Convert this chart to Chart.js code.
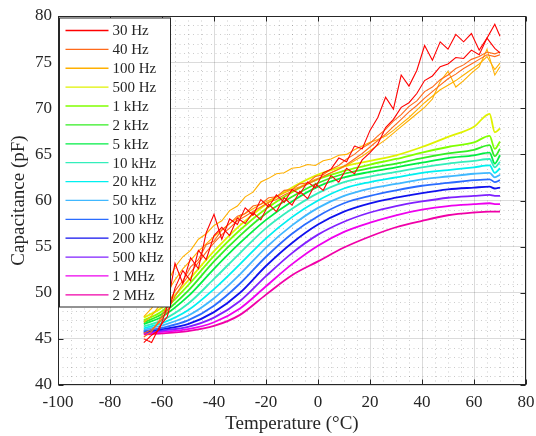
<!DOCTYPE html>
<html>
<head>
<meta charset="utf-8">
<script src="https://cdn.jsdelivr.net/npm/chart.js@4"></script>
<style>
  html, body { margin: 0; padding: 0; background: #fff; }
</style>
</head>
<body>
<canvas id="chart" width="536" height="436"></canvas>
<script>
// frequencies, legend order
var freqLabels = ['30 Hz', '40 Hz', '100 Hz', '500 Hz', '1 kHz', '2 kHz', '5 kHz', '10 kHz',
                  '20 kHz', '50 kHz', '100 kHz', '200 kHz', '500 kHz', '1 MHz', '2 MHz'];
var colors = ['#ff0000', '#ff6a1a', '#ffb000', '#dff200', '#80ff00', '#33ee22', '#00ee44', '#33eebb',
              '#00f0f0', '#40b8ff', '#2a6cff', '#1010ee', '#8020ff', '#ee00ee', '#f000a8'];

var xTicks = [-100, -80, -60, -40, -20, 0, 20, 40, 60, 80];
var yTicks = [40, 45, 50, 55, 60, 65, 70, 75, 80];

// low frequencies are noisy, two sweeps each
var tempNoisy = [-67, -64, -61, -58, -55, -52, -49, -46, -43, -40,
                 -37, -34, -31, -28, -25, -22, -19, -16, -13, -10,
                 -7, -4, -1, 2, 5, 8, 11, 14, 17, 20,
                 23, 26, 29, 32, 35, 38, 41, 44, 47, 50,
                 53, 56, 59, 62, 65, 68, 70];

var c30a = [44.6, 45.4, 46.0, 48.5, 53.2, 51.0, 53.8, 52.6, 56.5, 58.5,
            55.8, 58.0, 57.4, 59.2, 58.4, 60.1, 59.3, 60.6, 59.8, 61.2,
            60.7, 62.0, 61.4, 63.0, 63.4, 64.6, 64.2, 65.9, 65.6, 67.6,
            69.0, 71.2, 69.9, 73.6, 72.4, 74.1, 76.8, 75.2, 77.2, 76.4,
            78.0, 77.2, 78.1, 76.3, 77.6, 79.1, 77.8];
var c30b = [45.0, 44.6, 46.3, 47.4, 50.5, 52.4, 51.3, 54.6, 53.6, 56.2,
            57.1, 56.2, 58.1, 57.5, 58.7, 57.9, 59.6, 58.8, 60.3, 59.5,
            61.0, 60.2, 61.8, 61.1, 62.7, 62.0, 63.5, 62.9, 64.4, 65.2,
            66.1, 67.9, 68.8, 70.1, 70.6, 71.6, 73.0, 73.5, 74.5, 74.8,
            75.5, 75.4, 76.3, 75.8, 77.6, 76.5, 76.0];
var c40a = [45.2, 45.8, 47.0, 48.6, 50.2, 51.3, 52.8, 53.6, 55.2, 55.6,
            56.8, 57.5, 58.3, 58.6, 59.4, 59.6, 60.3, 60.4, 61.1, 61.2,
            61.8, 61.9, 62.6, 62.8, 63.4, 63.8, 64.5, 65.0, 65.7, 66.2,
            67.0, 67.7, 68.6, 69.3, 70.2, 70.8, 71.8, 72.3, 73.1, 73.6,
            74.3, 74.7, 75.3, 75.6, 76.1, 75.9, 76.1];
var c40b = [45.6, 46.0, 46.8, 48.0, 49.6, 51.0, 52.2, 53.3, 54.4, 55.4,
            56.3, 57.0, 57.8, 58.3, 58.8, 59.3, 59.8, 60.1, 60.6, 61.0,
            61.4, 61.8, 62.2, 62.6, 63.0, 63.4, 63.9, 64.5, 65.1, 65.8,
            66.5, 67.2, 68.0, 68.8, 69.6, 70.3, 71.1, 71.8, 72.5, 73.2,
            73.7, 74.3, 74.8, 75.3, 75.8, 75.6, 75.8];
var c100a = [47.4, 48.3, 49.6, 51.0, 52.8, 53.9, 54.6, 55.8, 56.4, 57.3,
             57.8, 58.9, 59.4, 60.4, 60.9, 62.0, 62.4, 62.9, 63.0, 63.5,
             63.6, 63.9, 63.8, 64.3, 64.5, 64.9, 65.0, 65.5, 65.9, 66.3,
             66.6, 67.0, 67.6, 68.3, 69.0, 69.8, 70.6, 71.3, 72.0, 72.5,
             73.0, 73.6, 74.2, 74.8, 75.6, 74.2, 74.9];
var c100b = [46.8, 47.5, 48.6, 50.0, 51.4, 52.6, 53.5, 54.5, 55.3, 56.1,
             56.8, 57.5, 58.1, 58.6, 59.1, 59.6, 60.0, 60.4, 60.8, 61.2,
             61.5, 61.9, 62.3, 62.6, 63.0, 63.4, 63.8, 64.3, 64.8, 65.4,
             66.0, 66.6, 67.3, 68.0, 68.7, 69.4, 70.1, 71.0, 72.9, 74.0,
             72.3, 73.0, 73.8, 74.5, 76.4, 73.6, 74.5];

// 500 Hz and up are smooth
var tempSmooth = [-67, -60, -50, -40, -30, -20, -10, 0, 10, 20, 30, 40, 50, 60, 66, 68, 70];

var c500  = [47.3, 48.4, 51.3, 54.5, 57.3, 59.6, 61.4, 62.8, 63.7, 64.3, 64.9, 65.8, 66.9, 68.0, 69.4, 67.4, 67.8];
var c1k   = [47.0, 48.0, 50.8, 54.0, 56.8, 59.1, 60.9, 62.3, 63.2, 63.9, 64.5, 65.2, 65.8, 66.3, 67.0, 65.6, 66.4];
var c2k   = [46.8, 47.7, 50.2, 53.4, 56.2, 58.6, 60.4, 61.9, 62.9, 63.5, 64.0, 64.6, 65.1, 65.5, 66.0, 64.8, 65.6];
var c5k   = [46.6, 47.4, 49.6, 52.6, 55.4, 57.9, 59.9, 61.5, 62.5, 63.1, 63.6, 64.1, 64.6, 64.9, 65.2, 64.0, 64.9];
var c10k  = [46.35, 47.0, 48.8, 51.5, 54.3, 57.0, 59.1, 60.8, 62.0, 62.6, 63.1, 63.6, 64.0, 64.3, 64.5, 63.6, 64.2];
var c20k  = [46.15, 46.7, 48.1, 50.4, 53.1, 55.9, 58.2, 60.0, 61.3, 62.0, 62.5, 63.0, 63.3, 63.6, 63.8, 63.0, 63.5];
var c50k  = [46.0, 46.45, 47.5, 49.4, 52.0, 54.9, 57.3, 59.2, 60.5, 61.3, 61.8, 62.3, 62.6, 62.9, 63.0, 62.5, 62.8];
var c100k = [45.85, 46.2, 47.0, 48.6, 51.0, 53.9, 56.4, 58.3, 59.7, 60.5, 61.1, 61.6, 61.9, 62.2, 62.3, 62.0, 62.2];
var c200k = [45.75, 46.05, 46.6, 47.9, 50.0, 52.9, 55.4, 57.4, 58.8, 59.7, 60.3, 60.8, 61.2, 61.4, 61.5, 61.3, 61.4];
var c500k = [45.65, 45.9, 46.3, 47.3, 49.1, 51.8, 54.3, 56.3, 57.7, 58.7, 59.4, 59.9, 60.3, 60.5, 60.6, 60.5, 60.5];
var c1M   = [45.6, 45.75, 46.05, 46.8, 48.3, 50.7, 53.1, 55.1, 56.6, 57.6, 58.4, 59.0, 59.4, 59.6, 59.7, 59.6, 59.6];
var c2M   = [45.5, 45.6, 45.85, 46.4, 47.6, 49.8, 51.9, 53.4, 54.9, 56.1, 57.1, 57.8, 58.4, 58.7, 58.8, 58.8, 58.8];

var noisySeries = [[c30a, c30b], [c40a, c40b], [c100a, c100b]];
var smoothSeries = [c500, c1k, c2k, c5k, c10k, c20k, c50k, c100k, c200k, c500k, c1M, c2M];

var textColor = '#262626';
Chart.defaults.font.family = "'Liberation Serif', 'Times New Roman', serif";
Chart.defaults.color = textColor;

function pts(xs, ys) {
    return xs.map(function(x, i) { return { x: x, y: ys[i] }; });
}

var datasets = [];
noisySeries.forEach(function(runs, i) {
    runs.forEach(function(run) {
        datasets.push({
            label: freqLabels[i],
            data: pts(tempNoisy, run),
            borderColor: colors[i],
            borderWidth: 1.1,
            pointRadius: 0,
            tension: 0
        });
    });
});
smoothSeries.forEach(function(run, j) {
    var i = j + noisySeries.length;
    datasets.push({
        label: freqLabels[i],
        data: pts(tempSmooth, run),
        borderColor: colors[i],
        borderWidth: 1.8,
        pointRadius: 0,
        cubicInterpolationMode: 'monotone'
    });
});

// minor dotted grid, box with inward ticks, legend box inside the axes
var framePlugin = {
    id: 'frame',
    beforeDatasetsDraw: function(chart) {
        var ctx = chart.ctx, a = chart.chartArea;
        var xs = chart.scales.x, ys = chart.scales.y;
        ctx.save();
        ctx.strokeStyle = 'rgba(0,0,0,0.2)';
        ctx.lineWidth = 1;
        ctx.setLineDash([1, 3.5]);
        ctx.beginPath();
        for (var t = xs.min; t <= xs.max; t += 5) {
            if (xTicks.indexOf(t) >= 0) continue;
            var px = Math.round(xs.getPixelForValue(t)) + 0.5;
            ctx.moveTo(px, a.top); ctx.lineTo(px, a.bottom);
        }
        for (var c = ys.min; c <= ys.max; c += 1) {
            if (yTicks.indexOf(c) >= 0) continue;
            var py = Math.round(ys.getPixelForValue(c)) + 0.5;
            ctx.moveTo(a.left, py); ctx.lineTo(a.right, py);
        }
        ctx.stroke();
        ctx.restore();
    },
    afterDraw: function(chart) {
        var ctx = chart.ctx, a = chart.chartArea;
        var xs = chart.scales.x, ys = chart.scales.y;
        var L = Math.round(a.left) + 0.5, R = Math.round(a.right) - 0.5;
        var T = Math.round(a.top) + 0.5, B = Math.round(a.bottom) - 0.5;
        ctx.save();
        ctx.strokeStyle = textColor;
        ctx.lineWidth = 1;
        ctx.strokeRect(L, T, R - L, B - T);
        ctx.beginPath();
        xTicks.forEach(function(v) {
            var px = Math.round(xs.getPixelForValue(v)) + 0.5;
            ctx.moveTo(px, B); ctx.lineTo(px, B - 5);
            ctx.moveTo(px, T); ctx.lineTo(px, T + 5);
        });
        yTicks.forEach(function(v) {
            var py = Math.round(ys.getPixelForValue(v)) + 0.5;
            ctx.moveTo(L, py); ctx.lineTo(L + 5, py);
            ctx.moveTo(R, py); ctx.lineTo(R - 5, py);
        });
        ctx.stroke();

        // legend
        var lx = L + 1, ly = T + 1.5, lw = 111, lh = 289, step = 18.88;
        ctx.fillStyle = '#fff';
        ctx.fillRect(lx, ly, lw, lh);
        ctx.strokeStyle = textColor;
        ctx.strokeRect(lx, ly, lw, lh);
        ctx.font = "15px 'Liberation Serif', 'Times New Roman', serif";
        ctx.textBaseline = 'middle';
        ctx.textAlign = 'left';
        freqLabels.forEach(function(lab, i) {
            var y = ly + 12.5 + i * step;
            ctx.strokeStyle = colors[i];
            ctx.lineWidth = 1.3;
            ctx.beginPath();
            ctx.moveTo(lx + 6, y); ctx.lineTo(lx + 49, y);
            ctx.stroke();
            ctx.fillStyle = textColor;
            ctx.fillText(lab, lx + 53, y + 1);
        });
        ctx.restore();
    }
};

var chart = new Chart(document.getElementById('chart').getContext('2d'), {
    type: 'line',
    data: { datasets: datasets },
    plugins: [framePlugin],
    options: {
        responsive: false,
        animation: false,
        layout: { padding: { left: 0, right: 10, top: 16, bottom: 0 } },
        plugins: {
            legend: { display: false },
            tooltip: { enabled: false }
        },
        scales: {
            x: {
                type: 'linear',
                min: -100,
                max: 80,
                afterBuildTicks: function(s) { s.ticks = xTicks.map(function(v) { return { value: v }; }); },
                afterFit: function(s) { s.height = 51; s.paddingLeft = 0; s.paddingRight = 0; },
                grid: { color: 'rgba(0,0,0,0.14)', drawTicks: false },
                border: { display: false },
                ticks: { padding: 7, maxRotation: 0, font: { size: 17 }, color: textColor },
                title: { display: true, text: 'Temperature (°C)', font: { size: 19 }, color: textColor,
                         padding: { top: 0, bottom: 1 } }
            },
            y: {
                min: 40,
                max: 80,
                afterBuildTicks: function(s) { s.ticks = yTicks.map(function(v) { return { value: v }; }); },
                afterFit: function(s) { s.width = 58; s.paddingTop = 0; s.paddingBottom = 0; },
                grid: { color: 'rgba(0,0,0,0.14)', drawTicks: false },
                border: { display: false },
                ticks: { padding: 6, font: { size: 17 }, color: textColor },
                title: { display: true, text: 'Capacitance (pF)', font: { size: 19 }, color: textColor,
                         padding: { top: 8, bottom: 0 } }
            }
        }
    }
});
</script>
</body>
</html>
